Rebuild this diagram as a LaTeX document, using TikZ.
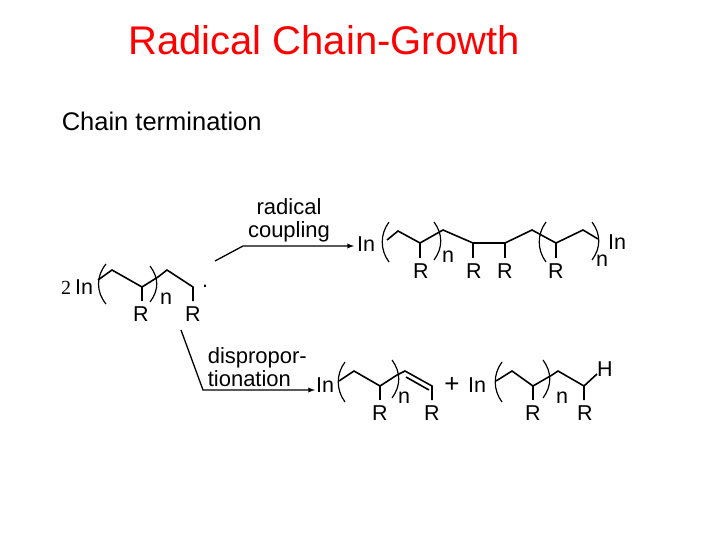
\documentclass[tikz,border=0pt]{standalone}
\usepackage{fontspec}
\setmainfont{Liberation Sans}
\newfontfamily\serifnum{Liberation Serif}
\begin{document}
\begin{tikzpicture}[x=1pt,y=-1pt,line width=1.6pt,
  lbl/.style={font=\fontsize{21.5}{24}\selectfont,inner sep=0pt},
  sm/.style={font=\fontsize{22}{23}\selectfont,inner sep=0pt},
  arr/.style={-latex,line width=1.3pt},
  lp/.style={line width=1.2pt},
  ]
\useasboundingbox (0,0) rectangle (720,540);
\node[text=red,font=\fontsize{40}{44}\selectfont,inner sep=0pt] (title) at (324,40) {Radical Chain-Growth};
\node[font=\fontsize{25.5}{28}\selectfont,inner sep=0pt,anchor=west] (sub) at (61,121) {Chain termination};
% left monomer
\node[font=\serifnum\fontsize{20}{22}\selectfont,inner sep=0pt] (two) at (66,288) {2};
\node[lbl] (in0) at (84,287) {In};
\draw[lp] (106,264) .. controls (96,276) and (96,292) .. (106,304);
\draw (98,280) -- (112,270) -- (142,287) -- (158,277) -- (167,270) -- (193,287) -- (193,301);
\draw (142,287) -- (142,301);
\draw[lp] (150,266) .. controls (159,278) and (159,290) .. (150,302);
\node[lbl] (r1) at (141,314) {R};
\node[lbl] (n1) at (166,299) {n};
\node[lbl] (r2) at (193,314) {R};
\node[lbl] (dot) at (205,286) {.};
% top arrow
\coordinate (a1) at (215,261);
\coordinate (a2) at (243,246);
\coordinate (a3) at (354,246);
\draw[arr] (a1) -- (a2) -- (a3);
\node[sm,align=center] (rc) at (289,220) {radical\\coupling};
% top product
\node[lbl] (in1) at (366,244) {In};
\draw[lp] (389,222) .. controls (380,234) and (380,250) .. (389,262);
\draw (387,240) -- (398,231) -- (420,243) -- (443,230) -- (473,243) -- (505,243) -- (532,230) -- (556,243) -- (583,230) -- (598,239);
\draw (420,243) -- (420,258);
\draw (473,243) -- (473,258);
\draw (505,243) -- (505,258);
\draw (556,243) -- (556,258);
\draw[lp] (434,222) .. controls (443,234) and (443,248) .. (434,260);
\draw[lp] (546,222) .. controls (537,234) and (537,250) .. (546,262);
\draw[lp] (592,222) .. controls (601,234) and (601,248) .. (592,260);
\node[lbl] (r3) at (421,271) {R};
\node[lbl] (n2) at (448,257) {n};
\node[lbl] (r4) at (474,271) {R};
\node[lbl] (r5) at (505,271) {R};
\node[lbl] (r6) at (556,271) {R};
\node[lbl] (n3) at (602,261) {n};
\node[lbl] (in2) at (617,242) {In};
% bottom arrow
\coordinate (b1) at (181,330);
\coordinate (b2) at (203,390);
\coordinate (b3) at (315,390);
\draw[arr] (b1) -- (b2) -- (b3);
\node[sm,align=left,anchor=west] (dp) at (207,367) {dispropor-\\tionation};
% bottom product 1
\node[lbl] (in3) at (325,385) {In};
\draw[lp] (345,362) .. controls (336,374) and (336,390) .. (345,402);
\draw (339,381) -- (354,371) -- (380,386) -- (397,375) -- (405,371) -- (432,386) -- (432,400);
\draw (380,386) -- (380,400);
\draw (406,377) -- (429,390);
\draw[lp] (392,360) .. controls (401,372) and (401,386) .. (392,398);
\node[lbl] (r7) at (380,413) {R};
\node[lbl] (n4) at (404,398) {n};
\node[lbl] (r8) at (432,413) {R};
\node[font=\fontsize{26}{28}\selectfont,inner sep=0pt] (plus) at (452,385) {+};
% bottom product 2
\node[lbl] (in4) at (477,385) {In};
\draw[lp] (502,362) .. controls (493,374) and (493,390) .. (502,402);
\draw (496,381) -- (512,371) -- (533,386) -- (552,375) -- (558,371) -- (584,386) -- (584,400);
\draw (533,386) -- (533,400);
\draw (584,386) -- (597,374);
\draw[lp] (543,360) .. controls (552,372) and (552,386) .. (543,398);
\node[lbl] (r9) at (533,413) {R};
\node[lbl] (n5) at (562,398) {n};
\node[lbl] (r10) at (585,413) {R};
\node[lbl] (h) at (605,369) {H};
\end{tikzpicture}
\end{document}
